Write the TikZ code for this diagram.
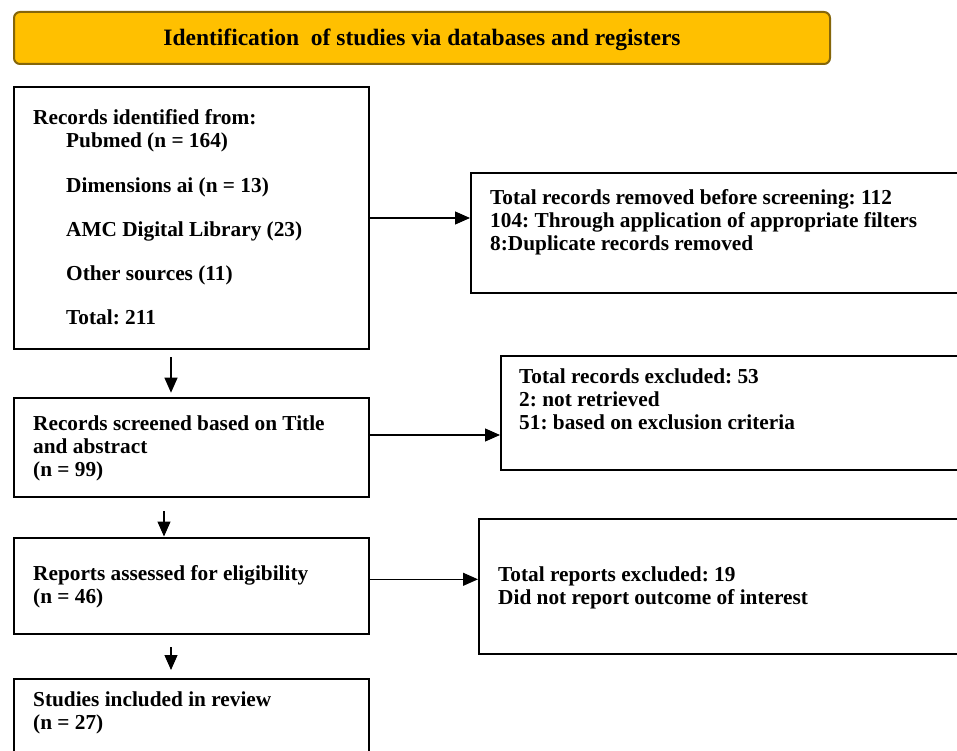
\documentclass[tikz,border=0pt]{standalone}
\usepackage{fontspec}
\setmainfont{Liberation Serif}
\usetikzlibrary{arrows.meta,calc}
\definecolor{titlefill}{HTML}{FFC000}
\definecolor{titledraw}{HTML}{85660A}
\frenchspacing
\begin{document}
\begin{tikzpicture}[x=1pt,y=-1pt,
  box/.style={draw=black,line width=2pt,anchor=north west,inner sep=0pt,rectangle},
  txt/.style={anchor=north west,inner sep=0pt,align=left,font=\fontsize{21.3}{23}\selectfont\bfseries},
  arr/.style={-{Triangle[length=15pt,width=13pt]},line width=1.1pt}]
\useasboundingbox (0,0) rectangle (957,751);
\clip (0,0) rectangle (957,751);
\fill[white] (0,0) rectangle (957,751);
% boxes
\node[box,draw=titledraw,fill=titlefill,rounded corners=6pt,minimum width=816pt,minimum height=52pt] (b0) at (13,11) {};
\node[box,minimum width=355pt,minimum height=262pt] (b1) at (13,86) {};
\node[box,minimum width=500pt,minimum height=120pt] (b2) at (470,172) {};
\node[box,minimum width=355pt,minimum height=99pt] (b3) at (13,397) {};
\node[box,minimum width=470pt,minimum height=114pt] (b4) at (500,355) {};
\node[box,minimum width=355pt,minimum height=96pt] (b5) at (13,537) {};
\node[box,minimum width=492pt,minimum height=135pt] (b6) at (478,518) {};
\node[box,minimum width=355pt,minimum height=110pt] (b7) at (13,678) {};
% texts
\node[anchor=base,inner sep=0pt,font=\fontsize{23.5}{26}\selectfont\bfseries] (t0) at ([yshift=-7.3pt]b0.center) {Identification\ \ of studies via databases and registers};
\node[txt] (t1) at (33,107.9) {\strut Records identified from:\\
  \hspace*{33pt}\strut Pubmed (n = 164)\\[22pt]
  \hspace*{33pt}\strut Dimensions ai (n = 13)\\[21pt]
  \hspace*{33pt}\strut AMC Digital Library (23)\\[21pt]
  \hspace*{33pt}\strut Other sources (11)\\[21pt]
  \hspace*{33pt}\strut Total: 211};
\node[txt] (t2) at (490,187.9) {\strut Total records removed before screening: 112\\
  \strut 104: Through application of appropriate filters\\
  \strut 8:Duplicate records removed};
\node[txt] (t3) at (33,413.9) {\strut Records screened based on Title\\
  \strut and abstract\\
  \strut (n = 99)};
\node[txt] (t4) at (519,367.2) {\strut Total records excluded: 53\\
  \strut 2: not retrieved\\
  \strut 51: based on exclusion criteria};
\node[txt] (t5) at (33,564.6) {\strut Reports assessed for eligibility\\
  \strut (n = 46)};
\node[txt] (t6) at (498,564.9) {\strut Total reports excluded: 19\\
  \strut Did not report outcome of interest};
\node[txt] (t7) at (33,690.6) {\strut Studies included in review\\
  \strut (n = 27)};
% connectors
\draw[arr] (b1.east) -- (b1.east -| b2.west);
\draw[arr] ([yshift=12.5pt]b3.east) coordinate (s3) -- (s3 -| b4.west);
\draw[arr] ([yshift=6.7pt]b5.east) coordinate (s5) -- (s5 -| b6.west);
\draw[arr,shorten <=7pt,shorten >=4.3pt] ([xshift=-20.5pt]b1.south) -- ([xshift=-20.5pt]b3.north);
\draw[arr,shorten <=13pt,shorten >=0.5pt] ([xshift=-27.5pt]b3.south) -- ([xshift=-27.5pt]b5.north);
\draw[arr,shorten <=12pt,shorten >=8pt] ([xshift=-20.5pt]b5.south) -- ([xshift=-20.5pt]b7.north);
\end{tikzpicture}
\end{document}
